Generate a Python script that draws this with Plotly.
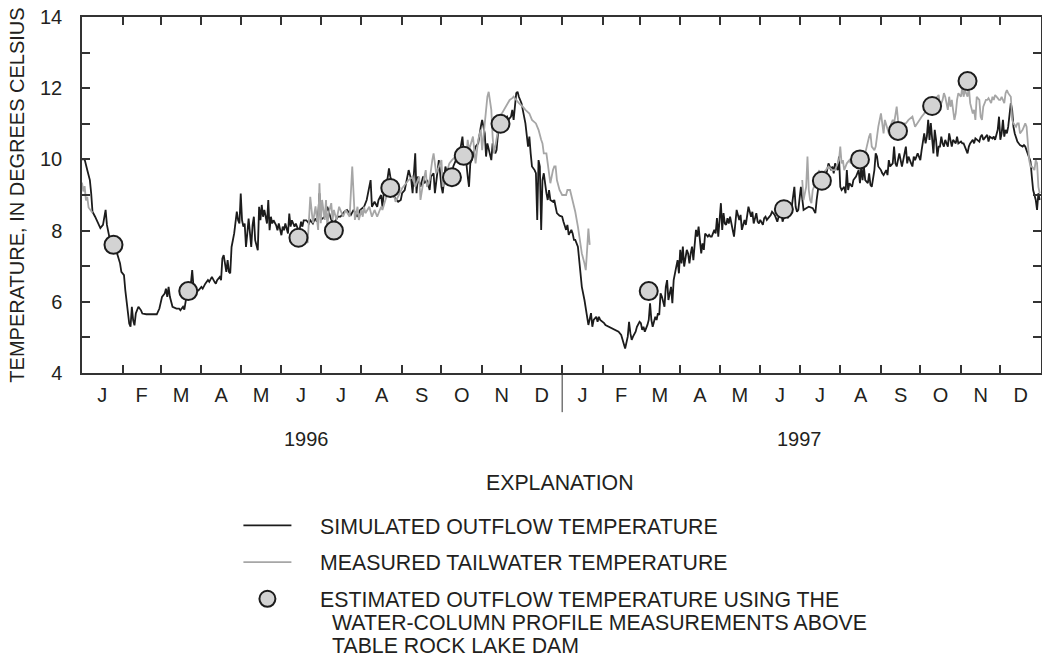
import pandas as pd
import plotly.graph_objects as go

# ---------------- data (day offset from 1996-01-01, temperature in deg C) ----------------
sim_day = [0, 2, 4, 6, 7, 8, 10, 12, 14, 16, 18, 19, 21, 23, 24, 26, 28, 29, 30, 32, 33, 35, 36, 37, 38, 39, 40, 41, 43, 45, 46, 49, 51, 55, 57, 59, 61, 63, 64, 65, 66, 67, 68, 69, 72, 74, 75, 77, 78, 79, 80, 81, 83, 84, 85, 87, 89, 91, 92, 94, 96, 97, 99, 101, 102, 103, 105, 106, 107, 108, 110, 111, 112, 113, 114, 115, 116, 118, 119, 120, 121, 122, 123, 124, 125, 126, 127, 129, 130, 131, 132, 134, 135, 136, 137, 138, 139, 141, 142, 143, 144, 145, 146, 148, 149, 150, 152, 153, 154, 155, 157, 158, 159, 160, 162, 163, 165, 166, 167, 168, 169, 171, 172, 173, 174, 176, 177, 178, 179, 180, 181,
           182, 185, 187, 190, 192, 195, 197, 200, 202, 205, 207, 210, 212, 215, 217, 220, 221, 223, 225, 226, 228, 229, 230, 232, 233, 234, 235, 237, 238, 239, 241, 243, 244, 246, 248, 249, 251, 252, 254, 255, 256, 258, 260, 261, 263, 265, 266, 268, 269, 271, 272, 274, 275, 277, 279, 280, 282, 283, 285, 287, 289, 290, 291, 293, 294, 295, 296, 298, 300, 302, 304, 305, 307, 308, 309, 310, 312, 313, 315, 316, 318, 320, 322, 324, 325, 327, 328, 329, 331, 332, 333, 335, 336, 337, 338, 340, 341, 342, 343, 345, 346, 347, 348, 349, 350, 351, 352, 354, 355, 356, 357, 359, 360, 361, 362, 364,
           366, 367, 369, 370, 371, 373, 374, 375, 376, 378, 379, 380, 381, 383, 384, 385, 386, 388, 389, 390, 392, 393, 394, 395, 397, 398, 399, 402, 404, 407, 409, 411, 412, 413, 414, 416, 417, 418, 419, 420, 422, 423, 425, 426, 427, 428, 429, 431, 432, 433, 434, 435, 437, 438, 439, 440, 441, 442, 444, 445, 446, 447, 449, 450, 451, 453, 454, 455, 456, 457, 458, 459, 461, 462, 463, 464, 465, 466, 468, 469, 470, 472, 473, 474, 475, 477, 478, 479, 480, 482, 483, 484, 485, 486, 487, 488, 489, 490, 491, 492, 493, 494, 496, 497, 498, 499, 501, 502, 503, 505, 506, 507, 508, 510, 511, 512, 514, 515, 516, 517, 519, 520, 521, 522, 523, 525, 526, 528, 529, 530, 531, 533, 534, 535, 536, 538, 539, 540, 541, 543, 544, 545,
           546, 548, 550, 552, 554, 557, 559, 560, 561, 562, 563, 564, 566, 567, 568, 569, 571, 572, 573, 574, 576, 577, 578, 579, 581, 582, 583, 584, 585, 587, 588, 590, 591, 592, 593, 594, 595, 596, 597, 599, 600, 601, 602, 604, 605, 606, 607, 609, 610, 611, 613, 614, 615, 616, 618, 619, 620, 621, 623, 624, 625, 626, 628, 629, 630, 632, 633, 634, 635, 637, 638, 639, 640, 642, 643, 644, 645, 646, 647, 648, 649, 650, 651, 652, 653, 654, 655, 656, 657, 658, 660, 661, 662, 663, 664, 666, 667, 668, 670, 671, 672, 675, 676, 677, 679, 680, 681, 682, 684, 685, 686, 687, 689, 690, 691, 692, 694, 695, 696, 698, 699, 700, 701, 702, 703, 704, 705, 706, 708, 709, 710, 711, 713, 714, 715, 717, 718, 719, 720, 722, 723, 724, 725, 727, 728, 729, 730]
sim_temp = [10.00, 10.00, 9.70, 9.42, 9.05, 8.53, 8.39, 8.25, 8.07, 8.16, 8.58, 8.16, 7.79, 7.62, 7.58, 7.45, 7.22, 7.08, 6.84, 6.75, 6.33, 5.76, 5.39, 5.30, 5.86, 5.48, 5.34, 5.67, 5.86, 5.76, 5.67, 5.65, 5.65, 5.65, 5.65, 5.81, 6.14, 6.23, 6.37, 6.14, 6.42, 6.14, 5.95, 5.86, 5.81, 5.81, 5.76, 5.86, 5.78, 6.00, 6.23, 6.31, 6.51, 6.89, 6.42, 6.28, 6.33, 6.42, 6.37, 6.51, 6.61, 6.56, 6.70, 6.56, 6.51, 6.61, 6.70, 6.61, 7.22, 7.31, 6.84, 7.17, 6.84, 6.80, 7.54, 7.73, 7.92, 8.53, 8.29, 8.20, 9.04, 8.29, 8.11, 8.20, 7.54, 7.92, 8.34, 7.54, 8.15, 8.39, 7.73, 7.45, 8.67, 8.29, 8.72, 8.39, 8.58, 8.20, 8.86, 8.01, 8.39, 8.20, 8.29, 8.15, 8.01, 8.20, 7.87, 8.11, 8.01, 8.20, 7.92, 8.48, 8.11, 8.29, 8.11, 8.20, 8.00, 8.06, 8.25, 8.11, 8.29, 8.29, 8.25, 8.20, 8.29, 8.20, 8.29, 8.34, 8.25, 8.39, 9.05,
            8.30, 8.39, 8.67, 8.30, 8.21, 8.39, 8.39, 8.53, 8.58, 8.44, 8.58, 8.39, 8.58, 8.67, 8.86, 9.42, 8.67, 8.81, 8.67, 8.86, 9.00, 8.67, 9.05, 9.23, 9.52, 9.75, 9.52, 9.23, 8.95, 8.91, 8.81, 8.86, 9.05, 9.14, 9.52, 9.70, 9.42, 9.05, 10.17, 9.05, 9.52, 9.23, 9.52, 9.33, 9.42, 9.14, 9.52, 9.61, 9.05, 9.70, 9.98, 9.23, 9.05, 9.80, 9.52, 9.70, 9.42, 9.80, 9.98, 9.98, 10.45, 10.64, 10.17, 9.89, 9.52, 9.23, 9.89, 10.08, 10.36, 10.45, 10.92, 11.11, 10.73, 10.08, 10.45, 10.26, 9.98, 10.45, 10.17, 10.26, 11.11, 11.11, 11.11, 11.20, 11.11, 11.20, 11.39, 11.11, 11.86, 11.90, 11.76, 11.58, 11.39, 11.20, 11.01, 10.36, 10.64, 10.17, 9.80, 9.70, 9.61, 8.30, 9.98, 9.80, 8.02, 9.42, 9.61, 9.05, 8.86, 9.14, 8.86, 8.81, 8.86, 8.67, 8.49, 8.42,
            8.39, 8.25, 8.02, 8.16, 7.88, 8.02, 7.92, 7.74, 7.74, 7.55, 7.17, 6.80, 6.42, 6.05, 5.77, 5.54, 5.35, 5.68, 5.30, 5.49, 5.58, 5.44, 5.58, 5.49, 5.44, 5.40, 5.35, 5.30, 5.26, 5.21, 5.16, 5.07, 4.93, 4.79, 4.69, 5.02, 5.44, 5.12, 4.93, 5.02, 5.16, 5.30, 5.44, 5.40, 5.21, 5.30, 5.16, 5.35, 5.49, 5.96, 5.49, 5.30, 5.58, 5.49, 5.68, 5.63, 6.24, 6.15, 5.86, 6.42, 6.61, 6.05, 6.42, 5.96, 6.61, 6.99, 7.17, 6.80, 7.46, 7.08, 7.55, 6.99, 7.46, 7.36, 7.08, 7.36, 7.55, 7.17, 8.02, 7.83, 8.11, 7.36, 7.64, 7.46, 7.92, 7.83, 7.88, 7.83, 7.83, 8.02, 7.92, 8.35, 7.83, 8.30, 8.77, 8.02, 8.49, 8.20, 8.16, 8.35, 8.20, 8.39, 8.02, 7.83, 8.20, 8.58, 8.30, 8.44, 8.02, 8.30, 8.16, 8.39, 8.67, 8.39, 8.53, 8.20, 8.49, 8.25, 8.20, 8.30, 8.16, 8.35, 8.39, 8.30, 8.35, 8.44, 8.53, 8.44, 8.35, 8.25, 8.39, 8.53, 8.25, 8.35, 8.49, 8.35, 8.44, 8.63, 8.67, 9.23, 8.67, 8.53,
            8.58, 9.23, 8.58, 8.63, 8.67, 8.63, 8.49, 8.86, 9.23, 9.42, 9.52, 9.23, 9.33, 9.52, 9.61, 9.89, 9.70, 9.80, 9.61, 9.89, 9.70, 10.08, 9.23, 9.14, 9.23, 9.05, 9.70, 9.14, 9.33, 9.23, 9.42, 9.52, 9.61, 9.70, 9.33, 9.80, 9.42, 9.80, 9.42, 9.33, 9.61, 9.28, 9.23, 9.70, 10.17, 10.08, 9.80, 9.70, 9.61, 9.56, 9.70, 9.56, 9.98, 9.80, 9.89, 10.36, 9.89, 9.80, 10.17, 9.98, 9.80, 9.98, 10.36, 9.89, 10.08, 9.89, 9.80, 10.08, 9.98, 10.17, 10.08, 9.98, 10.26, 10.73, 10.45, 10.64, 11.11, 10.55, 11.02, 10.45, 10.17, 10.83, 10.55, 10.08, 10.36, 10.36, 10.64, 10.45, 10.36, 10.55, 10.36, 10.73, 10.50, 10.36, 10.55, 10.45, 10.64, 10.45, 10.50, 10.45, 10.45, 10.17, 10.36, 10.45, 10.55, 10.45, 10.59, 10.55, 10.50, 10.64, 10.69, 10.55, 10.64, 10.69, 10.50, 10.64, 10.59, 10.64, 10.55, 10.83, 11.20, 10.55, 10.73, 11.11, 10.64, 10.83, 10.73, 10.92, 11.58, 11.39, 10.92, 10.73, 10.50, 10.45, 10.40, 10.36, 10.40, 10.36, 10.26, 10.08, 9.94, 9.52, 9.14, 8.86, 8.58, 9.05, 8.86]

# measured tailwater: three recorded periods
meas_day_1 = [0, 1, 2, 3, 4, 5, 6, 7, 8]
meas_temp_1 = [9.35, 9.10, 9.25, 8.85, 8.95, 8.65, 8.60, 8.55, 8.50]
meas_day_2 = [170, 171, 172, 174, 176, 178, 180, 181, 182, 183, 185, 186, 187, 188, 190, 191, 192, 194, 196, 199, 201, 204, 206, 208, 209, 210, 211, 213, 214, 215, 216, 219, 221, 223, 225, 228, 229, 232, 234, 237, 239, 242, 244, 247, 249, 252, 254, 257, 258, 260, 262, 263, 265, 267, 268, 270, 272, 274, 275, 277, 280, 282, 285, 287, 290, 293, 294, 295, 298, 299, 300, 302, 304, 305, 307, 308, 309, 310, 312, 313, 314, 315, 317, 318, 320, 323, 326, 328, 329, 331, 333, 336, 338, 341, 343, 346, 347, 348, 350, 351, 352, 354, 355, 356, 357, 359, 360, 361, 362, 364, 366, 369, 370, 372, 373, 374, 376, 378, 379, 380, 381, 383, 384, 385, 386, 387]
meas_temp_2 = [7.78, 7.69, 7.65, 8.95, 8.21, 8.68, 8.02, 9.33, 8.21, 8.86, 8.30, 8.86, 8.11, 8.49, 8.77, 8.30, 8.58, 8.30, 8.67, 8.39, 8.58, 8.39, 9.80, 8.30, 8.49, 8.67, 8.30, 8.58, 8.39, 8.67, 8.49, 8.67, 8.39, 8.58, 8.39, 8.67, 8.58, 8.95, 9.05, 9.14, 8.81, 9.05, 9.19, 9.33, 9.42, 9.52, 9.23, 9.52, 8.86, 9.33, 9.70, 9.23, 9.42, 9.98, 10.17, 9.61, 9.80, 9.98, 9.23, 9.52, 9.89, 9.98, 10.08, 10.17, 10.36, 10.08, 10.55, 10.26, 10.64, 10.17, 9.89, 10.55, 10.83, 10.26, 11.11, 11.39, 11.76, 11.90, 11.39, 10.64, 10.17, 10.36, 10.83, 11.01, 11.29, 11.48, 11.67, 11.72, 11.76, 11.67, 11.58, 11.48, 11.39, 11.29, 11.11, 11.01, 10.92, 10.83, 10.55, 10.45, 10.17, 10.17, 9.89, 9.52, 9.33, 9.70, 9.80, 9.80, 9.42, 9.14, 9.00, 9.00, 9.14, 9.14, 9.00, 8.81, 8.53, 8.11, 7.83, 7.64, 7.36, 7.08, 6.89, 7.45, 8.06, 7.60]
meas_day_3 = [549, 550, 552, 553, 554, 555, 556, 557, 559, 560, 562, 563, 564, 567, 569, 572, 574, 577, 578, 579, 580, 581, 583, 585, 586, 587, 588, 591, 592, 595, 597, 598, 600, 601, 602, 604, 605, 606, 607, 609, 610, 611, 612, 614, 615, 616, 618, 619, 620, 621, 622, 623, 625, 628, 630, 633, 635, 638, 640, 642, 643, 644, 646, 648, 651, 653, 654, 656, 657, 658, 660, 661, 662, 663, 665, 666, 667, 668, 670, 671, 672, 673, 675, 676, 677, 679, 680, 681, 682, 684, 685, 686, 687, 689, 690, 691, 693, 694, 695, 696, 698, 699, 700, 701, 703, 704, 705, 706, 708, 709, 710, 712, 713, 714, 715, 717, 718, 719, 720, 722, 723, 724, 726, 727, 728, 729, 730]
meas_temp_3 = [9.42, 8.86, 9.23, 10.08, 9.14, 8.86, 8.77, 9.14, 9.33, 9.52, 9.70, 9.52, 9.61, 9.70, 9.80, 9.70, 9.70, 9.98, 10.36, 9.89, 9.98, 9.70, 9.89, 9.98, 9.89, 10.08, 9.89, 9.98, 9.80, 9.98, 10.17, 10.36, 10.64, 10.73, 10.36, 10.26, 10.36, 10.64, 10.92, 11.29, 10.92, 10.73, 11.11, 10.83, 10.73, 10.92, 11.11, 11.01, 11.29, 11.48, 11.11, 10.92, 11.01, 11.01, 11.11, 11.20, 10.92, 11.11, 11.20, 11.29, 11.39, 11.43, 11.58, 11.58, 11.72, 11.81, 11.48, 11.67, 11.86, 11.76, 11.39, 11.76, 11.48, 11.67, 11.11, 11.29, 11.67, 11.86, 11.76, 12.04, 11.76, 11.95, 11.76, 12.04, 11.58, 11.29, 11.39, 11.11, 11.76, 11.67, 11.20, 11.11, 11.48, 11.67, 11.67, 11.72, 11.58, 11.76, 11.67, 11.81, 11.72, 11.67, 11.67, 11.76, 11.58, 11.86, 11.95, 11.86, 11.76, 11.11, 11.01, 10.92, 11.01, 11.01, 10.73, 10.83, 10.92, 11.01, 10.92, 9.98, 9.80, 9.80, 9.70, 9.98, 9.89, 9.23, 9.05]

# estimated outflow temperature from water-column profiles
est_day = [24, 81, 165, 192, 235, 282, 291, 319, 432, 535, 564, 593, 622, 648, 675]
est_temp = [7.6, 6.3, 7.8, 8.0, 9.2, 9.5, 10.1, 11.0, 6.3, 8.6, 9.4, 10.0, 10.8, 11.5, 12.2]

month_letters = ["J", "F", "M", "A", "M", "J", "J", "A", "S", "O", "N", "D"] * 2
year_labels = ["1996", "1997"]
y_ticks = list(range(4, 15))
legend_names = ["SIMULATED OUTFLOW TEMPERATURE",
                "MEASURED TAILWATER TEMPERATURE",
                "ESTIMATED OUTFLOW TEMPERATURE USING THE"]
legend_more = ["WATER-COLUMN PROFILE MEASUREMENTS ABOVE", "TABLE ROCK LAKE DAM"]

START = pd.Timestamp("1996-01-01")


def to_dates(days):
    return [START + pd.Timedelta(days=d) for d in days]


meas_x = to_dates(meas_day_1) + [None] + to_dates(meas_day_2) + [None] + to_dates(meas_day_3)
meas_y = meas_temp_1 + [None] + meas_temp_2 + [None] + meas_temp_3

month_starts = pd.date_range("1996-01-01", "1998-01-01", freq="MS")
month_mids = [s + (e - s) / 2 for s, e in zip(month_starts[:-1], month_starts[1:])]

FONT = "Liberation Sans, Arial, Helvetica, sans-serif"
INK = "#231f20"
AX = "#333333"
PAD = "\u00a0" * 4

fig = go.Figure()
fig.add_trace(go.Scatter(x=to_dates(sim_day), y=sim_temp, mode="lines",
                         line=dict(color="#1c1c1c", width=1.8),
                         name=PAD + legend_names[0], legendgroup="a"))
fig.add_trace(go.Scatter(x=meas_x, y=meas_y, mode="lines", connectgaps=False,
                         line=dict(color="#a6a6a6", width=1.8),
                         name=PAD + legend_names[1], legendgroup="b"))
fig.add_trace(go.Scatter(x=to_dates(est_day), y=est_temp, mode="markers",
                         marker=dict(size=18, color="#d3d3d3", line=dict(color="#1c1c1c", width=2)),
                         name=PAD + legend_names[2], legendgroup="c"))
# empty trace so the month-label axis is drawn
fig.add_trace(go.Scatter(x=[month_mids[0]], y=[None], xaxis="x2", showlegend=False,
                         hoverinfo="skip", mode="lines"))

xr = ["1996-01-01", "1998-01-01"]
fig.update_layout(
    template="none",
    width=1042, height=665,
    margin=dict(l=82, r=1, t=17, b=292),
    paper_bgcolor="white", plot_bgcolor="white",
    font=dict(family=FONT, size=20, color=INK),
    showlegend=True,
    legend=dict(x=0.1631, y=-0.371, xanchor="left", yanchor="top",
                font=dict(size=21.3, color=INK), bgcolor="rgba(0,0,0,0)",
                tracegroupgap=6, itemwidth=48, traceorder="grouped"),
    xaxis=dict(type="date", range=xr, tickmode="array", tickvals=list(month_starts),
               ticks="inside", ticklen=8, tickwidth=1.5, tickcolor=AX,
               showticklabels=False, showline=True, linecolor=AX, linewidth=1.5,
               mirror="ticks", showgrid=False, zeroline=False),
    xaxis2=dict(type="date", range=xr, overlaying="x", anchor="y", side="bottom",
                tickmode="array", tickvals=month_mids, ticktext=month_letters,
                ticks="", showline=False, showgrid=False, zeroline=False,
                tickfont=dict(size=20, color=INK), ticklabelstandoff=8,
                ticklabeloverflow="allow"),
    yaxis=dict(range=[4, 14], tickmode="array", tickvals=y_ticks,
               ticktext=[str(v) if v % 2 == 0 else "" for v in y_ticks],
               ticks="inside", ticklen=8, tickwidth=1.5, tickcolor=AX,
               showline=True, linecolor=AX, linewidth=1.5, mirror="ticks",
               showgrid=False, zeroline=False, ticklabelstandoff=14,
               ticklabeloverflow="allow",
               tickfont=dict(size=20, color=INK),
               title=dict(text="TEMPERATURE, IN DEGREES CELSIUS", standoff=10,
                          font=dict(size=20, color=INK))),
)

# year separator below the axis
fig.add_shape(type="line", xref="x", yref="paper", x0="1997-01-01", x1="1997-01-01",
              y0=0, y1=-0.11, line=dict(color=AX, width=1))

fig.add_annotation(text=year_labels[0], xref="x", yref="paper", x="1996-06-20", y=-0.222,
                   showarrow=False, font=dict(size=20, color=INK))
fig.add_annotation(text=year_labels[1], xref="x", yref="paper", x="1997-07-01", y=-0.222,
                   showarrow=False, font=dict(size=20, color=INK))
fig.add_annotation(text="EXPLANATION", xref="paper", yref="paper", x=0.498, y=-0.348,
                   showarrow=False, font=dict(size=21.3, color=INK))
for i, line in enumerate(legend_more):
    fig.add_annotation(text=line, xref="paper", yref="paper", x=0.2586, y=-0.701 - i * 0.0646,
                       xanchor="left", yanchor="middle", showarrow=False,
                       font=dict(size=21.3, color=INK))

# remove the default page margin so the figure sits at the window's top-left corner
fig.write_html("out.html",
               config={"displayModeBar": False},
               post_script="document.body.style.margin='0';document.body.style.overflow='hidden';")
